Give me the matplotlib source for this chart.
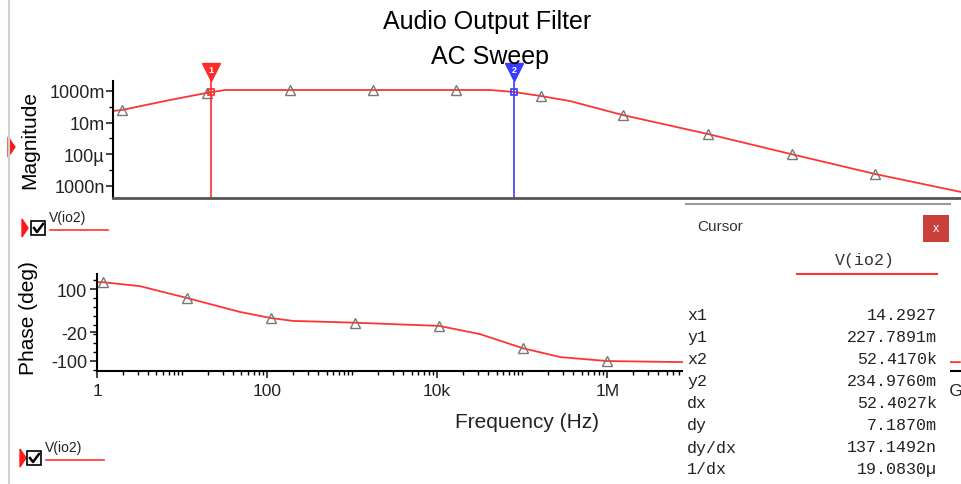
import matplotlib
matplotlib.use("Agg")
import matplotlib.pyplot as plt
import matplotlib.ticker as mticker
from matplotlib.patches import Rectangle, Polygon
from matplotlib.lines import Line2D

plt.rcParams["font.family"] = ["Liberation Sans", "DejaVu Sans"]
plt.rcParams["axes.unicode_minus"] = False

# ── data ───────────────────────────────────────────────────────────────────────
mag_freq = [1, 1.28, 4.7, 12.7, 20.8, 121, 1140, 11000, 27600, 52400,
            108000, 239000, 1.0e6, 1.0e7, 9.7e7, 9.3e8, 9.5e9]
mag_vals = [0.054, 0.063, 0.27, 0.75, 1.15, 1.15, 1.15, 1.15, 1.15, 0.86,
            0.48, 0.23, 0.030, 1.9e-3, 1.0e-4, 5.6e-6, 4.1e-7]
mag_marker_idx = [1, 3, 5, 6, 7, 10, 12, 13, 14, 15]

phase_freq = [1, 1.18, 3.2, 11.4, 48, 111, 202, 1090, 10600, 32000,
              101000, 280000, 1.0e6, 7.8e6, 1.4e10]
phase_deg = [119, 119, 108, 75, 36, 19, 11, 6, -3, -26,
             -65, -90, -101, -104, -104]
phase_marker_idx = [1, 3, 5, 7, 8, 10, 12]

cursor_freq = [14.2927, 52417.0]
cursor_mag = [0.85, 0.88]
cursor_colors = ["#ff2a2a", "#3b3bff"]

mag_ticks = [1, 1e-2, 1e-4, 1e-6]
mag_tick_labels = ["1000m", "10m", "100µ", "1000n"]
freq_ticks = [1, 1e2, 1e4, 1e6, 1e8, 1e10]
freq_tick_labels = ["1", "100", "10k", "1M", "100M", "10G"]
phase_ticks = [100, -20, -100]

cursor_rows = ["x1", "y1", "x2", "y2", "dx", "dy", "dy/dx", "1/dx"]
cursor_values = ["14.2927", "227.7891m", "52.4170k", "234.9760m",
                 "52.4027k", "7.1870m", "137.1492n", "19.0830µ"]

RED = "#ff3333"
W, H = 961, 485


def fx(x):
    return x / W


def fy(y):
    return 1 - y / H


fig = plt.figure(figsize=(W / 100, H / 100), dpi=100)
fig.patch.set_facecolor("white")

# ── magnitude plot ─────────────────────────────────────────────────────────────
ax1 = fig.add_axes([fx(113), fy(199), fx(961 - 113), 117 / H])
ax1.plot(mag_freq, mag_vals, color=RED, lw=1.3, marker="^", ms=7,
         mfc="none", mec="#777777", mew=1.0, markevery=mag_marker_idx)
ax1.set_xscale("log")
ax1.set_yscale("log")
ax1.set_xlim(1, 10 ** 9.98)
ax1.set_ylim(10 ** -6.77, 10 ** 0.63)
ax1.set_yticks(mag_ticks)
ax1.set_yticklabels(mag_tick_labels)
ax1.yaxis.set_minor_locator(mticker.LogLocator(base=10, subs=(1.0,), numticks=30))
ax1.yaxis.set_minor_formatter(mticker.NullFormatter())
ax1.tick_params(axis="y", which="major", direction="out", length=5, width=1.2,
                labelsize=13, pad=1, colors="#222222")
ax1.tick_params(axis="y", which="minor", direction="out", length=3, width=1.0)
ax1.tick_params(axis="x", which="both", bottom=False, labelbottom=False)
for s in ("top", "right"):
    ax1.spines[s].set_visible(False)
ax1.spines["left"].set_linewidth(1.5)
ax1.spines["bottom"].set_linewidth(2)
ax1.spines["bottom"].set_color("#555555")

# cursors
for i, (f, m, c) in enumerate(zip(cursor_freq, cursor_mag, cursor_colors)):
    ax1.axvline(f, color=c, lw=1.2)
    ax1.plot([f], [m], marker="s", ms=4, mfc="none", mec=c, mew=1.2)
    ax1.plot([f], [1.075], marker="v", ms=13, color=c,
             transform=ax1.get_xaxis_transform(), clip_on=False)
    ax1.text(f, 1.1, str(i + 1), color="white", fontsize=6.5, fontweight="bold",
             ha="center", va="center", transform=ax1.get_xaxis_transform())

# ── phase plot ─────────────────────────────────────────────────────────────────
ax2 = fig.add_axes([fx(97), fy(372), fx(961 - 97), 97 / H])
ax2.plot(phase_freq, phase_deg, color=RED, lw=1.3, marker="^", ms=7,
         mfc="none", mec="#777777", mew=1.0, markevery=phase_marker_idx)
ax2.set_xscale("log")
ax2.set_xlim(1, 10 ** 10.16)
ax2.set_ylim(-128.8, 141.9)
ax2.set_yticks(phase_ticks)
ax2.yaxis.set_minor_locator(mticker.MultipleLocator(25))
ax2.set_xticks(freq_ticks)
ax2.set_xticklabels(freq_tick_labels)
ax2.xaxis.set_minor_locator(mticker.LogLocator(base=10, subs=(1, 2, 3, 4, 5, 6, 7, 8, 9),
                                               numticks=40))
ax2.xaxis.set_minor_formatter(mticker.NullFormatter())
ax2.tick_params(which="major", direction="out", length=5, width=1.2,
                labelsize=13, pad=2, colors="#222222")
ax2.tick_params(which="minor", direction="out", length=3, width=1.0)
ax2.tick_params(axis="x", labelsize=12.5, pad=4)
for s in ("top", "right"):
    ax2.spines[s].set_visible(False)
ax2.spines["left"].set_linewidth(1.5)
ax2.spines["bottom"].set_linewidth(1.5)

# ── titles and axis labels ─────────────────────────────────────────────────────
fig.text(fx(487), fy(22), "Audio Output Filter", fontsize=18, ha="center", va="center")
fig.text(fx(490), fy(57), "AC Sweep", fontsize=18, ha="center", va="center")
fig.text(fx(30), fy(140), "Magnitude", fontsize=15, rotation=90, ha="center", va="center")
fig.text(fx(28), fy(318), "Phase (deg)", fontsize=15, rotation=90, ha="center", va="center")
fig.text(fx(527), fy(423), "Frequency (Hz)", fontsize=15, ha="center", va="center",
         color="#222222")

# ── left-side decorations (trace legends, selection arrows) ────────────────────
fig.add_artist(Line2D([fx(9), fx(9)], [0, 1], color="#d0d0d0", lw=1.5))
fig.add_artist(Polygon([(fx(8), fy(138)), (fx(8), fy(158)), (fx(15), fy(148))],
                       closed=True, color="#ff1a1a"))

for box_x, box_y, tri_x in [(31, 222, 22), (27, 452, 20)]:
    fig.add_artist(Polygon([(fx(tri_x), fy(box_y - 2)), (fx(tri_x), fy(box_y + 16)),
                            (fx(tri_x + 6), fy(box_y + 7))], closed=True, color="#ff1a1a"))
    fig.add_artist(Rectangle((fx(box_x), fy(box_y + 14)), fx(14), 14 / H,
                             facecolor="white", edgecolor="black", lw=1.2))
    fig.add_artist(Line2D([fx(box_x + 3), fx(box_x + 6), fx(box_x + 12)],
                          [fy(box_y + 7), fy(box_y + 11), fy(box_y + 3)],
                          color="black", lw=1.8))
    fig.text(fx(box_x + 18), fy(box_y - 4), "V(io2)", fontsize=10, ha="left",
             va="center", color="#222222")
    fig.add_artist(Line2D([fx(box_x + 19), fx(box_x + 77)], [fy(box_y + 9), fy(box_y + 9)],
                          color=RED, lw=1.2))

# ── cursor panel ───────────────────────────────────────────────────────────────
fig.add_artist(Rectangle((fx(683), 0), fx(950 - 683), fy(203), facecolor="white",
                         edgecolor="none", zorder=5))
fig.add_artist(Line2D([fx(686), fx(950)], [fy(205), fy(205)], color="#9a9a9a", lw=1.5,
                      zorder=6))
fig.text(fx(697), fy(227), "Cursor", fontsize=11, ha="left", va="center",
         color="#333333", zorder=6)
fig.add_artist(Rectangle((fx(923), fy(243)), fx(26), 27 / H, facecolor="#c9403a",
                         edgecolor="none", zorder=6))
fig.text(fx(936), fy(229), "x", fontsize=9, ha="center", va="center", color="white",
         zorder=7)
fig.text(fx(865), fy(261), "V(io2)", fontsize=12, family="Liberation Mono",
         ha="center", va="center", color="#333333", zorder=6)
fig.add_artist(Line2D([fx(797), fx(937)], [fy(275), fy(275)], color=RED, lw=1.5,
                      zorder=6))
for i, (name, val) in enumerate(zip(cursor_rows, cursor_values)):
    y = fy(316 + 22 * i)
    fig.text(fx(687), y, name, fontsize=12, family=["Liberation Mono", "DejaVu Sans Mono"],
             ha="left", va="center", color="#222222", zorder=6)
    fig.text(fx(937), y, val, fontsize=12, family=["Liberation Mono", "DejaVu Sans Mono"],
             ha="right", va="center", color="#222222", zorder=6)

fig.savefig("out.png", dpi=100)
